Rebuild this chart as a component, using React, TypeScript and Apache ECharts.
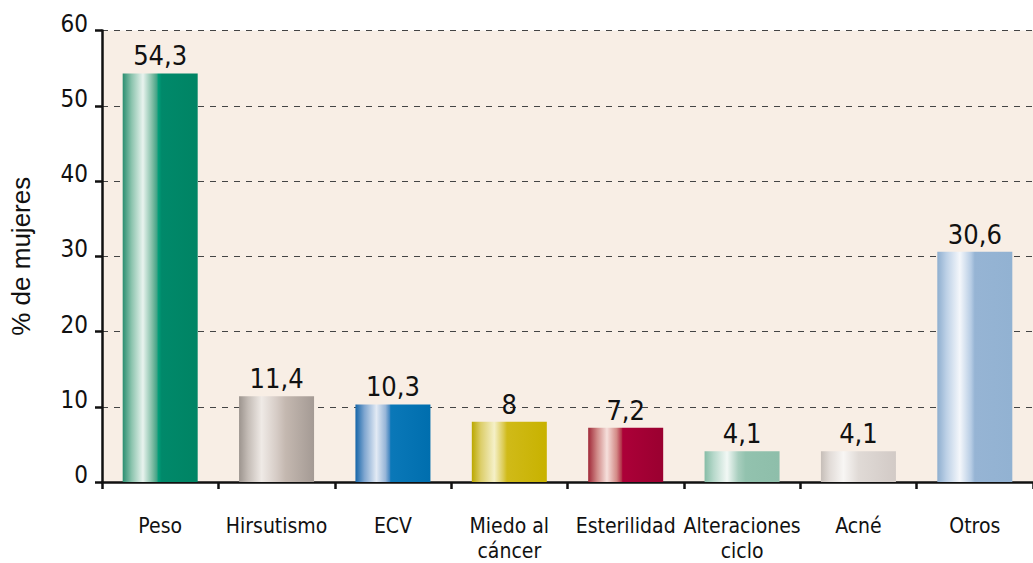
import React, { useEffect, useRef } from "react";
import * as echarts from "echarts";

const categories = ["Peso", "Hirsutismo", "ECV", "Miedo al\ncáncer", "Esterilidad", "Alteraciones\nciclo", "Acné", "Otros"];
const values = [54.3, 11.4, 10.3, 8, 7.2, 4.1, 4.1, 30.6];
const yTicks = { min: 0, max: 60, interval: 10 };
const yName = "% de mujeres";

// gradient stops per bar: [offset, color]
const barGradients: [number, string][][] = [
  [[0, "#2A8E70"], [0.12, "#8CC4AE"], [0.27, "#E8F3EE"], [0.4, "#7ABBA2"], [0.46, "#3FA184"], [0.47, "#00A07A"], [0.52, "#00896A"], [1, "#008464"]],
  [[0, "#9C948E"], [0.12, "#C4BCB6"], [0.3, "#EFEAE6"], [0.5, "#D6CCC6"], [0.62, "#C4B8B0"], [1, "#A49A94"]],
  [[0, "#1565A8"], [0.12, "#7FA6D0"], [0.28, "#E2EAF4"], [0.4, "#98B6D8"], [0.46, "#3F85C0"], [0.47, "#0A78B8"], [1, "#006EAE"]],
  [[0, "#BBA800"], [0.12, "#DCCE6A"], [0.3, "#F5F0C8"], [0.42, "#DCCB54"], [0.47, "#D0BA18"], [1, "#C8B200"]],
  [[0, "#A02838"], [0.12, "#D08A88"], [0.25, "#F6E0DC"], [0.38, "#D38A86"], [0.45, "#B02A44"], [0.46, "#AC0038"], [1, "#9A0030"]],
  [[0, "#86BCA6"], [0.12, "#B6D8CA"], [0.3, "#F2F8F5"], [0.45, "#A8CEBE"], [0.55, "#92C2AE"], [1, "#8EBEAA"]],
  [[0, "#C6BEB8"], [0.12, "#E2DCD8"], [0.3, "#F8F6F4"], [0.5, "#E0DAD6"], [1, "#D2CAC6"]],
  [[0, "#8EAECF"], [0.12, "#BCD0E6"], [0.3, "#F4F7FB"], [0.45, "#B6CCE4"], [0.5, "#96B4D4"], [1, "#92B2D2"]],
];

const narrow = "'DejaVu Sans Condensed', 'Liberation Sans Narrow', 'Arial Narrow', sans-serif";

export default function App() {
  const ref = useRef<HTMLDivElement>(null);
  useEffect(() => {
    if (!ref.current) return;
    const chart = echarts.init(ref.current, undefined, { renderer: "svg" });
    chart.setOption({
      animation: false,
      backgroundColor: "#ffffff",
      grid: {
        left: 102,
        top: 30.5,
        width: 941.6,
        height: 453.5,
        show: true,
        backgroundColor: "#F8EEE5",
        borderWidth: 0,
      },
      xAxis: {
        type: "category",
        data: categories,
        axisLine: { show: true, lineStyle: { color: "#111", width: 2.5 } },
        axisTick: { show: true, alignWithLabel: false, length: 7, lineStyle: { color: "#111", width: 2.5 } },
        axisLabel: {
          color: "#111",
          fontFamily: narrow,
          fontSize: 21,
          lineHeight: 25,
          margin: 31,
          interval: 0,
        },
      },
      yAxis: {
        type: "value",
        min: yTicks.min,
        max: yTicks.max,
        interval: yTicks.interval,
        name: yName,
        nameLocation: "middle",
        nameGap: 68,
        nameRotate: 90,
        nameTextStyle: { color: "#111", fontFamily: "'Liberation Sans', Arial, sans-serif", fontSize: 26 },
        axisLine: { show: true, lineStyle: { color: "#111", width: 2.5 } },
        axisTick: { show: true, length: 7, lineStyle: { color: "#111", width: 2.5 } },
        axisLabel: {
          color: "#111",
          fontFamily: narrow,
          fontSize: 24,
          margin: 14,
          verticalAlign: "bottom",
          lineHeight: 14,
        },
        splitLine: { show: true, lineStyle: { color: "#444", width: 1, type: [6, 6] } },
      },
      series: [
        {
          type: "bar",
          barWidth: 75,
          data: values.map((v, i) => ({
            value: v,
            itemStyle: {
              color: new echarts.graphic.LinearGradient(
                0, 0, 1, 0,
                barGradients[i].map(([offset, color]) => ({ offset, color }))
              ),
            },
          })),
          label: {
            show: true,
            position: "top",
            distance: 4,
            color: "#111",
            fontFamily: narrow,
            fontSize: 27,
            formatter: (p: any) => String(p.value).replace(".", ","),
          },
        },
      ],
    });
    return () => chart.dispose();
  }, []);
  return <div ref={ref} style={{ position: "fixed", left: 0, top: 0, width: 1033, height: 563 }} />;
}
